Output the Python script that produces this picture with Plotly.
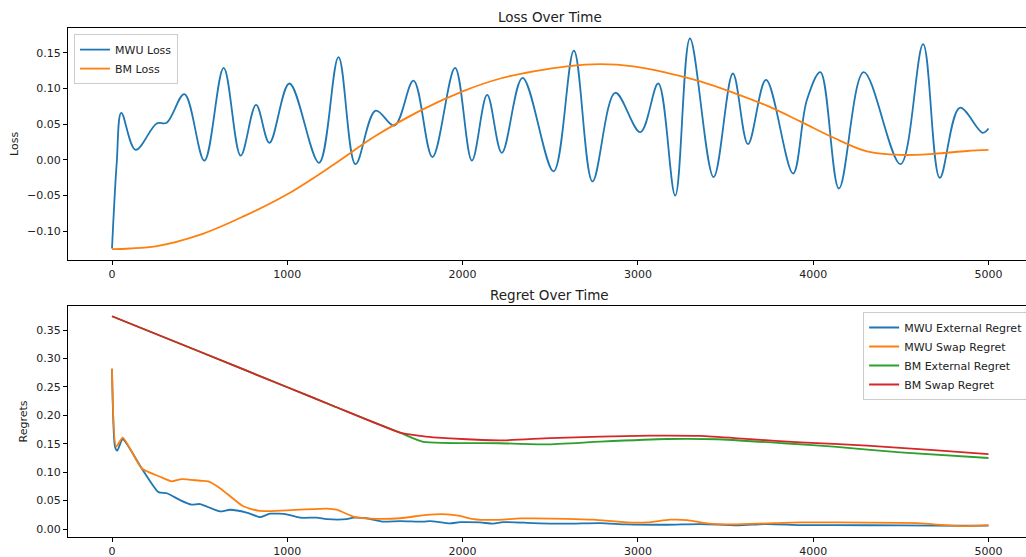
import plotly.graph_objects as go

# ---------------- data ----------------
mwu_loss_t = [0, 27, 53, 135, 255, 312, 413, 527, 637, 734, 822, 898, 1012, 1181, 1292,
              1389, 1504, 1611, 1720, 1828, 1957, 2053, 2140, 2224, 2342, 2519, 2635,
              2741, 2871, 3014, 3116, 3213, 3297, 3432, 3542, 3628, 3731, 3885, 3964,
              4041, 4147, 4288, 4498, 4627, 4722, 4836, 4967, 5000]
mwu_loss = [-0.124, -0.004, 0.066, 0.014, 0.051, 0.052, 0.092, -0.001, 0.129, 0.006,
            0.077, 0.024, 0.107, -0.004, 0.144, -0.006, 0.069, 0.048, 0.111, 0.004,
            0.129, -0.001, 0.091, 0.010, 0.115, -0.016, 0.153, -0.030, 0.094, 0.039,
            0.107, -0.050, 0.170, -0.024, 0.121, 0.022, 0.112, -0.019, 0.084, 0.123,
            -0.040, 0.123, -0.006, 0.162, -0.025, 0.073, 0.038, 0.044]

bm_loss_t = [0, 100, 250, 500, 750, 1000, 1250, 1500, 1750, 2000, 2215, 2405, 2595,
             2785, 2975, 3165, 3356, 3546, 3736, 3926, 4117, 4307, 4497, 4687, 4878, 5000]
bm_loss = [-0.125, -0.124, -0.121, -0.105, -0.079, -0.048, -0.009, 0.033, 0.068, 0.096,
           0.114, 0.124, 0.131, 0.134, 0.131, 0.122, 0.110, 0.094, 0.076, 0.054, 0.031,
           0.012, 0.007, 0.0085, 0.0125, 0.014]

mwu_ext_t = [0, 17, 30, 61, 169, 265, 313, 388, 454, 502, 616, 673, 768, 844, 901, 996,
             1073, 1168, 1225, 1339, 1377, 1453, 1548, 1643, 1776, 1814, 1928, 1985,
             2099, 2175, 2232, 2404, 2594, 2785, 2937, 3166, 3357, 3566, 3737, 3927,
             4117, 4498, 4878, 5000]
mwu_ext = [0.282, 0.145, 0.138, 0.158, 0.107, 0.065, 0.063, 0.051, 0.043, 0.044, 0.031,
           0.034, 0.029, 0.021, 0.027, 0.026, 0.020, 0.020, 0.0175, 0.0175, 0.020, 0.019,
           0.013, 0.014, 0.013, 0.014, 0.010, 0.012, 0.0117, 0.0094, 0.0122, 0.0105,
           0.0094, 0.0105, 0.0082, 0.0076, 0.0088, 0.0064, 0.0088, 0.007, 0.007, 0.0064,
           0.0058, 0.006]

mwu_swap_t = [0, 24, 61, 169, 274, 340, 397, 502, 549, 616, 749, 844, 996, 1225, 1282,
              1377, 1510, 1643, 1795, 1909, 1985, 2061, 2175, 2327, 2404, 2594, 2747,
              2937, 3052, 3185, 3280, 3395, 3547, 3737, 3927, 4117, 4593, 4688, 4840, 5000]
mwu_swap = [0.282, 0.145, 0.161, 0.107, 0.092, 0.084, 0.088, 0.085, 0.084, 0.072, 0.040,
            0.032, 0.033, 0.036, 0.034, 0.022, 0.018, 0.019, 0.025, 0.026, 0.023, 0.0175,
            0.016, 0.0187, 0.0187, 0.018, 0.0164, 0.0117, 0.0117, 0.0164, 0.0158, 0.010,
            0.0082, 0.010, 0.0117, 0.0117, 0.0105, 0.0082, 0.0053, 0.007]

bm_ext_t = [0, 502, 997, 1263, 1643, 1776, 2213, 2480, 2785, 3166, 3451, 3832, 4117,
            4497, 5000]
bm_ext = [0.3745, 0.312, 0.250, 0.2165, 0.1696, 0.1535, 0.151, 0.149, 0.1538, 0.1585,
          0.158, 0.151, 0.145, 0.135, 0.125]

bm_swap_t = [0, 502, 997, 1263, 1643, 1757, 1833, 2023, 2213, 2499, 2785, 3071, 3357,
             3642, 3927, 4307, 4688, 5000]
bm_swap = [0.3745, 0.312, 0.250, 0.2165, 0.1696, 0.1638, 0.1615, 0.158, 0.156, 0.160,
           0.1626, 0.1644, 0.1638, 0.158, 0.1527, 0.1468, 0.139, 0.132]

x_ticks = [0, 1000, 2000, 3000, 4000, 5000]
loss_ticks = [-0.10, -0.05, 0.00, 0.05, 0.10, 0.15]
regret_ticks = [0.00, 0.05, 0.10, 0.15, 0.20, 0.25, 0.30, 0.35]

# ---------------- figure ----------------
C_BLUE, C_ORANGE, C_GREEN, C_RED = "#1f77b4", "#ff7f0e", "#2ca02c", "#d62728"
FONT = "DejaVu Sans"
LW = 1.8

fig = go.Figure()

fig.add_trace(go.Scatter(x=mwu_loss_t, y=mwu_loss, mode="lines", name="MWU Loss",
                         line=dict(color=C_BLUE, width=LW, shape="spline", smoothing=1.0),
                         xaxis="x", yaxis="y", legend="legend"))
fig.add_trace(go.Scatter(x=bm_loss_t, y=bm_loss, mode="lines", name="BM Loss",
                         line=dict(color=C_ORANGE, width=LW, shape="spline"),
                         xaxis="x", yaxis="y", legend="legend"))

fig.add_trace(go.Scatter(x=mwu_ext_t, y=mwu_ext, mode="lines", name="MWU External Regret",
                         line=dict(color=C_BLUE, width=LW, shape="spline", smoothing=0.6),
                         xaxis="x2", yaxis="y2", legend="legend2"))
fig.add_trace(go.Scatter(x=mwu_swap_t, y=mwu_swap, mode="lines", name="MWU Swap Regret",
                         line=dict(color=C_ORANGE, width=LW, shape="spline", smoothing=0.6),
                         xaxis="x2", yaxis="y2", legend="legend2"))
fig.add_trace(go.Scatter(x=bm_ext_t, y=bm_ext, mode="lines", name="BM External Regret",
                         line=dict(color=C_GREEN, width=LW, shape="spline", smoothing=0.5),
                         xaxis="x2", yaxis="y2", legend="legend2"))
fig.add_trace(go.Scatter(x=bm_swap_t, y=bm_swap, mode="lines", name="BM Swap Regret",
                         line=dict(color=C_RED, width=LW, shape="spline", smoothing=0.5),
                         xaxis="x2", yaxis="y2", legend="legend2"))

axis_common = dict(showgrid=False, zeroline=False, showline=True, linecolor="black",
                   linewidth=1, ticks="outside", ticklen=4, tickcolor="black",
                   automargin=False,
                   tickfont=dict(family=FONT, size=11, color="#222"))

xr = [-251, 5214]
fig.update_layout(
    width=1026, height=557,
    margin=dict(l=68, r=0, t=28, b=20, autoexpand=False),
    paper_bgcolor="white", plot_bgcolor="white",
    font=dict(family=FONT, size=11, color="#222"),
    xaxis=dict(domain=[0, 1], range=xr, tickvals=x_ticks, anchor="y", mirror=True,
               **axis_common),
    yaxis=dict(domain=[0.5448, 1.0], range=[-0.1397, 0.1847], tickvals=loss_ticks,
               tickformat=".2f", anchor="x",
               title=dict(text="Loss", font=dict(family=FONT, size=11), standoff=6),
               **axis_common),
    xaxis2=dict(domain=[0, 1], range=xr, tickvals=x_ticks, anchor="y2", mirror=True,
                **axis_common),
    yaxis2=dict(domain=[0.0, 0.4538], range=[-0.0140, 0.3925], tickvals=regret_ticks,
                tickformat=".2f", anchor="x2",
                title=dict(text="Regrets", font=dict(family=FONT, size=11), standoff=6),
                **axis_common),
    legend=dict(x=0.0063, y=0.988, xanchor="left", yanchor="top",
                bgcolor="rgba(255,255,255,0.8)", bordercolor="#cccccc", borderwidth=1,
                font=dict(family=FONT, size=11, color="#222"), itemwidth=30,
                tracegroupgap=0),
    legend2=dict(x=0.83, y=0.442, xanchor="left", yanchor="top",
                 bgcolor="rgba(255,255,255,0.8)", bordercolor="#cccccc", borderwidth=1,
                 font=dict(family=FONT, size=11, color="#222"), itemwidth=30,
                 tracegroupgap=0),
    annotations=[
        dict(text="Loss Over Time", xref="paper", yref="paper", x=0.503, y=1.022,
             xanchor="center", yanchor="middle", showarrow=False,
             font=dict(family=FONT, size=13.5, color="#222")),
        dict(text="Regret Over Time", xref="paper", yref="paper", x=0.503, y=0.4754,
             xanchor="center", yanchor="middle", showarrow=False,
             font=dict(family=FONT, size=13.5, color="#222")),
    ],
)

fig.write_html("out.html",
               config={"displayModeBar": False},
               post_script="document.body.style.margin='0';"
                           "document.body.style.overflow='hidden';")
